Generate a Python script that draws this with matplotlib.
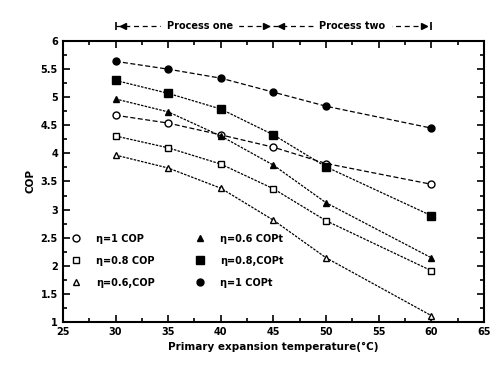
import matplotlib.pyplot as plt
from matplotlib.ticker import MultipleLocator

temps = [30, 35, 40, 45, 50, 60]

cop_eta1 = [4.68, 4.54, 4.33, 4.11, 3.82, 3.45]
cop_eta08 = [4.31, 4.10, 3.81, 3.37, 2.80, 1.91]
cop_eta06 = [3.97, 3.74, 3.38, 2.81, 2.14, 1.11]
copt_eta06 = [4.97, 4.74, 4.31, 3.79, 3.12, 2.14]
copt_eta08 = [5.30, 5.07, 4.79, 4.33, 3.76, 2.89]
copt_eta1 = [5.64, 5.50, 5.34, 5.09, 4.84, 4.45]

labels = ["η=1 COP", "η=0.8 COP", "η=0.6,COP",
          "η=0.6 COPt", "η=0.8,COPt", "η=1 COPt"]

plt.rcParams['font.family'] = 'DejaVu Sans'
plt.rcParams['font.weight'] = 'bold'
plt.rcParams['font.size'] = 7

fig = plt.figure(figsize=(4.91, 3.67), dpi=100)
ax = fig.add_axes([0.128, 0.123, 0.858, 0.765])

ms = 5
ax.plot(temps, cop_eta1, ls=(0, (4, 2)), color="black", lw=0.9, marker="o", mfc="white", mec="black", ms=ms, label=labels[0])
ax.plot(temps, cop_eta08, ls=(0, (2, 1)), color="black", lw=0.9, marker="s", mfc="white", mec="black", ms=ms, label=labels[1])
ax.plot(temps, cop_eta06, ls=(0, (2, 1)), color="black", lw=0.9, marker="^", mfc="white", mec="black", ms=ms, label=labels[2])
ax.plot(temps, copt_eta06, ls=(0, (2, 1)), color="black", lw=0.9, marker="^", mfc="black", mec="black", ms=ms, label=labels[3])
ax.plot(temps, copt_eta08, ls=(0, (2, 1)), color="black", lw=0.9, marker="s", mfc="black", mec="black", ms=ms + 1, label=labels[4])
ax.plot(temps, copt_eta1, ls=(0, (4, 2)), color="black", lw=0.9, marker="o", mfc="black", mec="black", ms=ms, label=labels[5])

ax.set_xlim(25, 65)
ax.set_ylim(1, 6)
ax.xaxis.set_major_locator(MultipleLocator(5))
ax.xaxis.set_minor_locator(MultipleLocator(2.5))
ax.yaxis.set_minor_locator(MultipleLocator(0.25))
ax.tick_params(which="both", direction="in", top=True, right=True, width=1.2)
ax.tick_params(which="major", length=5)
ax.tick_params(which="minor", length=3)
ax.set_yticks([1, 1.5, 2, 2.5, 3, 3.5, 4, 4.5, 5, 5.5, 6])
ax.set_yticklabels(["1", "1.5", "2", "2.5", "3", "3.5", "4", "4.5", "5", "5.5", "6"])
for s in ax.spines.values():
    s.set_linewidth(1.5)

ax.set_xlabel("Primary expansion temperature(°C)", fontweight="bold", fontsize=7.5)
ax.set_ylabel("COP", fontweight="bold", fontsize=7.5)

leg = ax.legend(ncol=2, loc="lower left", frameon=False, bbox_to_anchor=(0.0, 0.09),
                columnspacing=4.2, handlelength=1.0, handletextpad=1.5, labelspacing=1.25,
                fontsize=7)
for h in leg.get_lines():
    h.set_linestyle("none")

# process arrows above the plot (dashed lines, arrowheads, end bars)
yt = 1.055
tr = ax.get_xaxis_transform()
ax.plot([30, 45], [yt, yt], transform=tr, ls=(0, (4, 3)), color="black", lw=0.9, clip_on=False)
ax.plot([45, 60], [yt, yt], transform=tr, ls=(0, (4, 3)), color="black", lw=0.9, clip_on=False)
ax.plot([30.7, 45.7], [yt, yt], transform=tr, ls="none", marker="<", color="black", ms=4, clip_on=False)
ax.plot([44.3, 59.3], [yt, yt], transform=tr, ls="none", marker=">", color="black", ms=4, clip_on=False)
ax.plot([30, 60], [yt, yt], transform=tr, ls="none", marker="|", color="black", ms=6, mew=1.2, clip_on=False)
ax.text(38, yt, "Process one", transform=tr, ha="center", va="center",
        fontsize=7, backgroundcolor="white")
ax.text(52.5, yt, "Process two", transform=tr, ha="center", va="center",
        fontsize=7, backgroundcolor="white")

fig.savefig("out.png", dpi=100)
